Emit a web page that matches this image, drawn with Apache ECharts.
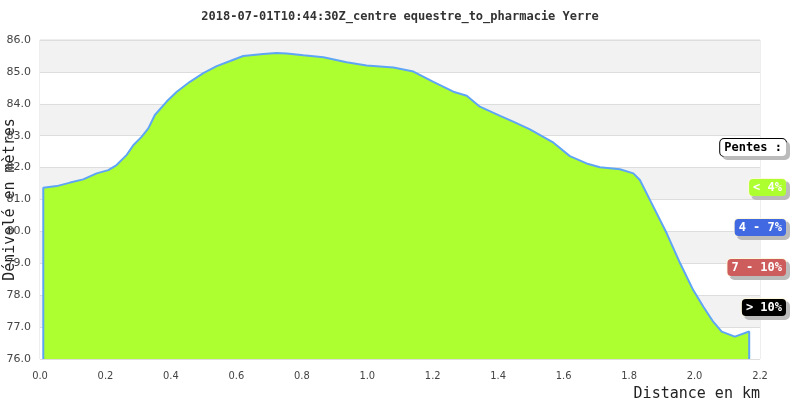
<!DOCTYPE html>
<html>
<head>
<meta charset="utf-8">
<script src="https://cdn.jsdelivr.net/npm/echarts@6/dist/echarts.min.js"></script>
<style>html,body{margin:0;padding:0;background:#fff}#c{width:800px;height:400px}</style>
</head>
<body>
<div id="c"></div>
<script>
var titleText = '2018-07-01T10:44:30Z_centre equestre_to_pharmacie Yerre';
var distanceKm = [0.01, 0.01, 0.051, 0.092, 0.132, 0.173, 0.209, 0.234, 0.265, 0.285, 0.311, 0.331, 0.351, 0.387, 0.418, 0.458, 0.499, 0.540, 0.581, 0.621, 0.682, 0.723, 0.754, 0.805, 0.866, 0.937, 0.998, 1.08, 1.141, 1.202, 1.263, 1.304, 1.344, 1.406, 1.446, 1.497, 1.569, 1.619, 1.67, 1.711, 1.772, 1.813, 1.833, 1.864, 1.915, 1.956, 1.996, 2.027, 2.057, 2.083, 2.123, 2.167, 2.167];
var altitude = [76, 81.37, 81.42, 81.53, 81.63, 81.82, 81.92, 82.08, 82.4, 82.7, 82.97, 83.23, 83.65, 84.07, 84.38, 84.69, 84.96, 85.18, 85.34, 85.5, 85.56, 85.59, 85.58, 85.52, 85.46, 85.3, 85.2, 85.14, 85.01, 84.69, 84.38, 84.25, 83.91, 83.62, 83.44, 83.2, 82.78, 82.36, 82.13, 82.01, 81.95, 81.82, 81.61, 80.98, 79.94, 79.0, 78.16, 77.64, 77.17, 76.86, 76.7, 76.86, 76];
var slopeLabels = ['Pentes :', '< 4%', '4 - 7%', '7 - 10%', '> 10%'];
var slopeColors = ['#ffffff', '#adff2f', '#4169e1', '#cd5c5c', '#000000'];
var slopeTextColors = ['#000000', '#ffffff', '#ffffff', '#ffffff', '#ffffff'];
var slopeTops = [139, 179, 219, 259, 299];

var data = distanceKm.map(function (d, i) { return [d, altitude[i]]; });
var mono = '"DejaVu Sans Mono", monospace';

var graphics = slopeLabels.map(function (t, i) {
  return {
    type: 'text',
    z: 100,
    style: {
      x: 786,
      y: slopeTops[i],
      align: 'right',
      verticalAlign: 'top',
      text: t,
      font: 'bold 12px ' + mono,
      fill: slopeTextColors[i],
      backgroundColor: slopeColors[i],
      borderColor: i === 0 ? '#000' : '#fff8dc',
      borderWidth: 1,
      borderRadius: 4,
      padding: [3, 4, 2, 4],
      shadowColor: '#bbbbbb',
      shadowOffsetX: 3,
      shadowOffsetY: 3,
      shadowBlur: 0
    }
  };
});

var chart = echarts.init(document.getElementById('c'));
chart.setOption({
  animation: false,
  title: {
    text: titleText,
    left: 'center',
    top: 6,
    textStyle: { fontFamily: mono, fontSize: 12, fontWeight: 'bold', color: '#333' }
  },
  grid: { left: 40, right: 40, top: 40, bottom: 41, containLabel: false, outerBoundsMode: 'none', show: true, borderColor: '#dddddd', borderWidth: 1, backgroundColor: 'transparent' },
  xAxis: {
    type: 'value', min: 0, max: 2.2, interval: 0.2,
    name: 'Distance en km', nameLocation: 'end', nameGap: 0, nameMoveOverlap: false,
    nameTextStyle: { fontFamily: mono, fontSize: 15, color: '#222', align: 'right', verticalAlign: 'top', padding: [28, 0, 0, 0] },
    axisLine: { show: false }, axisTick: { show: false }, splitLine: { show: false },
    axisLabel: { formatter: function (v) { return v.toFixed(1); }, fontFamily: '"DejaVu Sans Condensed", "Liberation Sans Narrow", sans-serif', fontSize: 11, color: '#444', margin: 12 }
  },
  yAxis: {
    type: 'value', min: 76, max: 86, interval: 1,
    name: 'Dénivelé en mètres', nameLocation: 'middle', nameGap: 22, nameRotate: 90, nameMoveOverlap: false,
    nameTextStyle: { fontFamily: mono, fontSize: 15, color: '#222' },
    axisLine: { show: false }, axisTick: { show: false },
    axisLabel: { formatter: function (v) { return v.toFixed(1); }, fontFamily: '"DejaVu Sans", sans-serif', fontSize: 11, color: '#444', margin: 9 },
    splitLine: { show: true, lineStyle: { color: '#dddddd' } },
    splitArea: { show: true, areaStyle: { color: ['#ffffff', '#f2f2f2'] } }
  },
  series: [{
    type: 'line', data: data, showSymbol: false, symbol: 'none',
    lineStyle: { color: '#5fa5f5', width: 2 },
    areaStyle: { color: '#adff2f', opacity: 1 },
    z: 3
  }],
  graphic: graphics
});
</script>
</body>
</html>
